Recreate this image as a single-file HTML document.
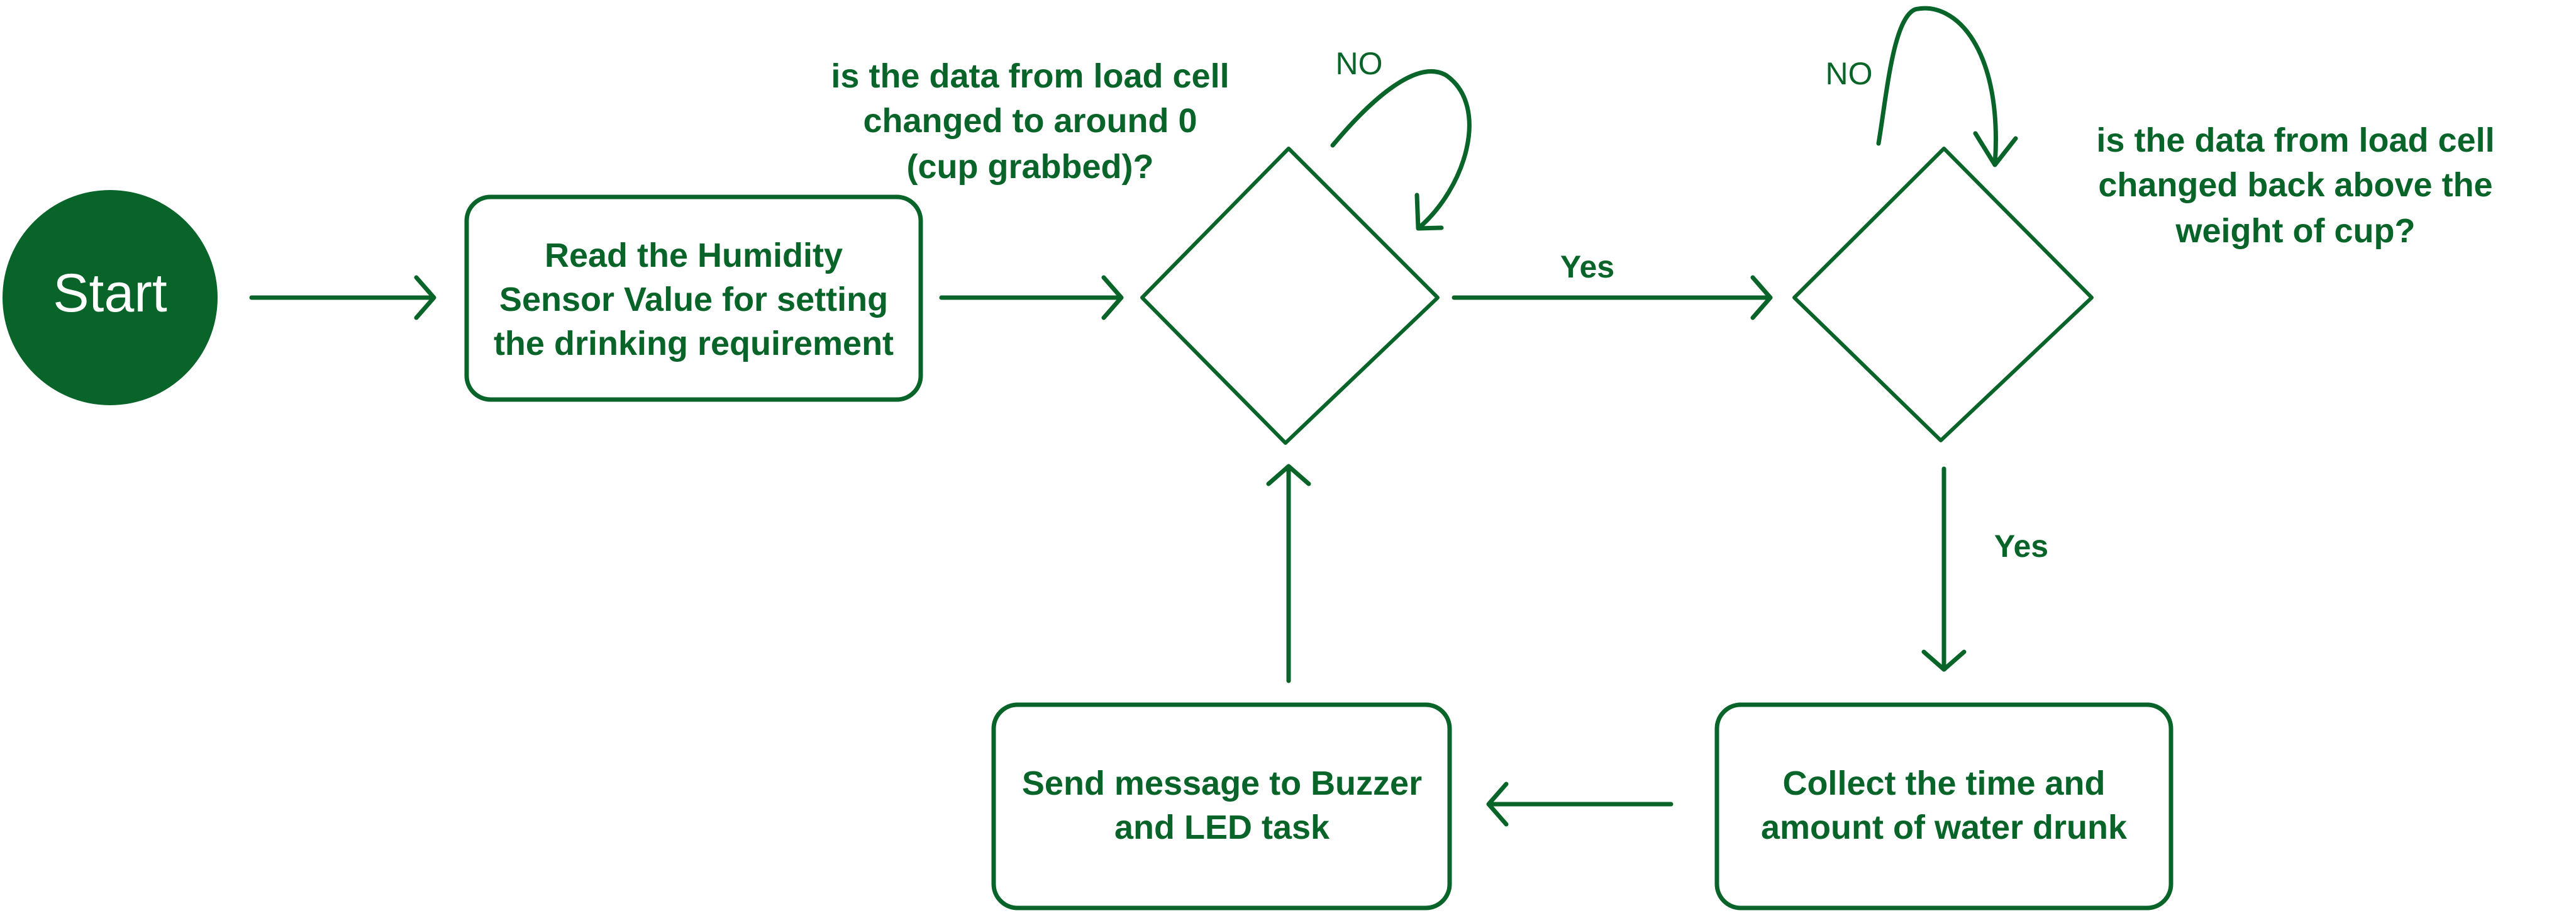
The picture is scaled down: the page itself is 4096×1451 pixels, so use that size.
<!DOCTYPE html>
<html><head><meta charset="utf-8"><style>html,body{margin:0;padding:0;background:#fff}svg{display:block}</style></head>
<body>
<svg width="4096" height="1451" viewBox="0 0 4096 1451" xmlns="http://www.w3.org/2000/svg">
<g fill="none" stroke="#086428" stroke-linecap="round" stroke-linejoin="round">
<!-- boxes -->
<rect x="742" y="313" width="722" height="322" rx="38" stroke-width="7"/>
<rect x="1580" y="1120" width="725" height="323" rx="38" stroke-width="7"/>
<rect x="2730" y="1120" width="722" height="323" rx="38" stroke-width="7"/>
<!-- diamonds -->
<polygon points="1816,473 2049,236 2286,473 2044,704" stroke-width="6"/>
<polygon points="2853,473 3091,236 3326,473 3086,700" stroke-width="6"/>
<!-- arrows -->
<g stroke-width="7">
<path d="M400,473 H690 M662,441 L690,473 L662,505"/>
<path d="M1497,473 H1783 M1755,441 L1783,473 L1755,505"/>
<path d="M2312,473 H2815 M2787,441 L2815,473 L2787,505"/>
<path d="M3091,745 V1064 M3059,1036 L3091,1064 L3123,1036"/>
<path d="M2657,1278 H2367 M2395,1246 L2367,1278 L2395,1310"/>
<path d="M2049,1082 V741 M2017,769 L2049,741 L2081,769"/>
<!-- loops -->
<path d="M2119,231 C2170,170 2250,90 2300,120 C2370,170 2330,300 2255,363 M2253,310 L2255,363 L2292,362"/>
<path d="M2987,228 C3000,150 3010,30 3045,15 C3110,0 3185,80 3172,262 M3141,212 L3172,262 L3205,220"/>
</g>
</g>
<circle cx="175" cy="473" r="171" fill="#086428"/>
<g font-family="'Liberation Sans', sans-serif" font-weight="bold" fill="#086428" text-anchor="middle" font-size="54">
<text x="175" y="495" fill="#fff" font-weight="normal" font-size="86">Start</text>
<text x="1103" y="424">Read the Humidity</text>
<text x="1103" y="494">Sensor Value for setting</text>
<text x="1103" y="564">the drinking requirement</text>
<text x="1638" y="139">is the data from load cell</text>
<text x="1638" y="210">changed to around 0</text>
<text x="1638" y="283">(cup grabbed)?</text>
<text x="3650" y="241">is the data from load cell</text>
<text x="3650" y="312">changed back above the</text>
<text x="3650" y="385">weight of cup?</text>
<text x="1943" y="1263">Send message to Buzzer</text>
<text x="1943" y="1333">and LED task</text>
<text x="3091" y="1263">Collect the time and</text>
<text x="3091" y="1333">amount of water drunk</text>
<text x="2524" y="441" font-size="50">Yes</text>
<text x="3214" y="885" font-size="50">Yes</text>
<text x="2161" y="118" font-weight="normal" font-size="50">NO</text>
<text x="2940" y="134" font-weight="normal" font-size="50">NO</text>
</g>
</svg>
</body></html>
